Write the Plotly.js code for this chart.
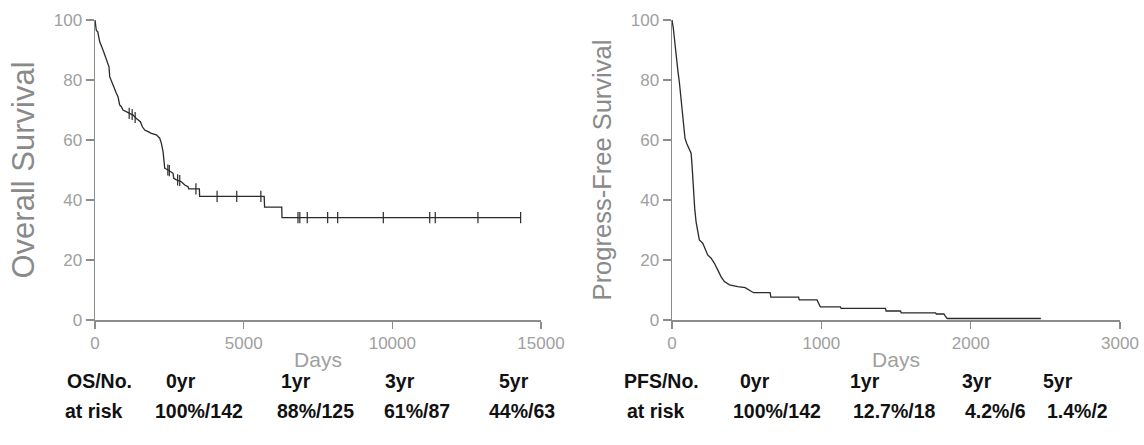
<!DOCTYPE html>
<html><head><meta charset="utf-8">
<script src="https://cdn.plot.ly/plotly-3.0.1.min.js"></script>
<style>html,body{margin:0;padding:0;background:#fff}#chart{width:1144px;height:445px}</style>
</head><body><div id="chart"></div><script>
// Overall survival curve vertices (days, %)
const osDays = [0, 30, 45, 90, 157, 269, 325, 381, 471, 494, 550, 628, 718, 774, 830, 886, 942, 1055, 1167, 1279, 1391, 1526, 1593, 1672, 1784, 1896, 2065, 2177, 2233, 2289, 2323, 2345, 2457, 2569, 2626, 2648, 2738, 2906, 3018, 3130, 3150, 3510, 3519, 5690, 5703, 6280, 6290, 14315];
const osSurv = [100, 98, 96.5, 96.1, 92.8, 90, 88.3, 86.7, 84.4, 81.1, 79.4, 77.8, 75.6, 74.4, 71.7, 71.1, 70, 69.4, 68.9, 68.3, 67.2, 66.1, 64.4, 63.3, 62.8, 62.2, 61.7, 60.6, 58.9, 56.1, 52.8, 50.6, 50, 49.4, 48.9, 47.2, 46.7, 46.1, 45, 44.4, 43.7, 43.7, 41.2, 41.2, 37.6, 37.6, 34.1, 34.1];
// OS censored observations
const osCensDays = [1150, 1250, 1350, 2450, 2500, 2780, 2850, 3395, 4106, 4767, 5579, 6827, 6889, 7139, 7825, 8162, 9697, 11257, 11444, 12879, 14315];
const osCensSurv = [68.9, 68.5, 67.5, 50, 49.8, 46.7, 46.5, 43.7, 41.2, 41.2, 41.2, 34.1, 34.1, 34.1, 34.1, 34.1, 34.1, 34.1, 34.1, 34.1, 34.1];
// Progression-free survival curve vertices (days, %)
const pfsDays = [0, 5, 9, 16, 22, 31, 40, 49, 56, 65, 72, 78, 87, 98, 112, 128, 134, 139, 145, 152, 161, 172, 183, 206, 221, 239, 262, 284, 306, 329, 351, 385, 440, 490, 546, 657, 662, 848, 852, 971, 993, 1127, 1132, 1429, 1434, 1530, 1535, 1765, 1770, 1821, 1830, 1843, 2470];
const pfsSurv = [100, 99, 97.2, 93.9, 90.6, 87.2, 82.8, 79.4, 76.1, 71.7, 68.3, 63.9, 60.6, 58.9, 57.2, 55.6, 51.7, 47.2, 41.7, 37.2, 32.8, 29.4, 26.7, 25.6, 23.9, 21.7, 20.6, 18.9, 16.7, 14.4, 12.8, 11.7, 11.1, 10.8, 9.1, 9.1, 7.6, 7.6, 6.7, 6.7, 4.4, 4.4, 3.9, 3.9, 3.0, 3.0, 2.4, 2.4, 2.0, 2.0, 1.3, 0.5, 0.5];
// At-risk tables
const osHeader = ["OS/No.", "0yr", "1yr", "3yr", "5yr"];
const osRisk = ["at risk", "100%/142", "88%/125", "61%/87", "44%/63"];
const pfsHeader = ["PFS/No.", "0yr", "1yr", "3yr", "5yr"];
const pfsRisk = ["at risk", "100%/142", "12.7%/18", "4.2%/6", "1.4%/2"];
const yTicks = [0, 20, 40, 60, 80, 100];

const W = 1144;
const lineCol = '#2a2a2a';
const axCol = '#8c8c8c';
const fam = 'Liberation Sans, Arial, sans-serif';
const tickFont = {family: fam, size: 17, color: '#a0a0a0'};

function axisX(domain, range, dtick) {
  return {domain: domain, range: range, dtick: dtick, tick0: 0, tickformat: 'd', showgrid: false, zeroline: false,
    showline: true, linecolor: axCol, linewidth: 1.5, ticks: 'outside', ticklen: 7, tickwidth: 1.5, tickcolor: axCol,
    tickfont: tickFont, fixedrange: true,
    title: {text: 'Days', font: {family: fam, size: 21, color: '#a0a0a0'}, standoff: 0}};
}
function axisY(anchor, title, size, standoff) {
  return {anchor: anchor, range: [0, 100], tickvals: yTicks, showgrid: false, zeroline: false,
    showline: true, linecolor: axCol, linewidth: 1.5, ticks: 'outside', ticklen: 8, tickwidth: 1.5, tickcolor: axCol,
    tickfont: tickFont, fixedrange: true,
    title: {text: title, font: {family: fam, size: size, color: '#8a8a8a'}, standoff: standoff}};
}

const traces = [
  {x: osDays, y: osSurv, xaxis: 'x', yaxis: 'y', mode: 'lines', line: {color: lineCol, width: 1.3}, hoverinfo: 'skip'},
  {x: osCensDays, y: osCensSurv, xaxis: 'x', yaxis: 'y', mode: 'markers',
   marker: {symbol: 'line-ns-open', size: 8, color: lineCol, line: {color: lineCol, width: 1.2}}, hoverinfo: 'skip'},
  {x: pfsDays, y: pfsSurv, xaxis: 'x2', yaxis: 'y2', mode: 'lines', line: {color: lineCol, width: 1.3}, hoverinfo: 'skip'}
];

const annFont = {family: fam, size: 19.5, color: '#111', weight: 'bold'};
const rowY = [-0.203, -0.303];
const osHeadX = [99, 181, 296, 400, 514];
const osRiskX = [94, 199, 315, 417, 522];
const pfsHeadX = [661, 755, 865, 977, 1058];
const pfsRiskX = [656, 777, 895, 995, 1077];
const annotations = [];
function addRow(texts, xs, y) {
  texts.forEach((t, i) => annotations.push({text: t, xref: 'paper', yref: 'paper', x: xs[i] / W, y: y,
    xanchor: 'center', yanchor: 'middle', showarrow: false, font: annFont}));
}
addRow(osHeader, osHeadX, rowY[0]);
addRow(osRisk, osRiskX, rowY[1]);
addRow(pfsHeader, pfsHeadX, rowY[0]);
addRow(pfsRisk, pfsRiskX, rowY[1]);

const layout = {
  width: 1144, height: 445, showlegend: false,
  margin: {l: 0, r: 0, t: 20, b: 125},
  paper_bgcolor: '#fff', plot_bgcolor: '#fff',
  xaxis: axisX([95 / W, 541 / W], [0, 15000], 5000),
  yaxis: axisY('x', 'Overall Survival', 31, 10),
  xaxis2: axisX([672 / W, 1120 / W], [0, 3000], 1000),
  yaxis2: axisY('x2', 'Progress-Free Survival', 25.5, 12),
  annotations: annotations
};
Plotly.newPlot('chart', traces, layout, {displayModeBar: false, staticPlot: true});
</script></body></html>
